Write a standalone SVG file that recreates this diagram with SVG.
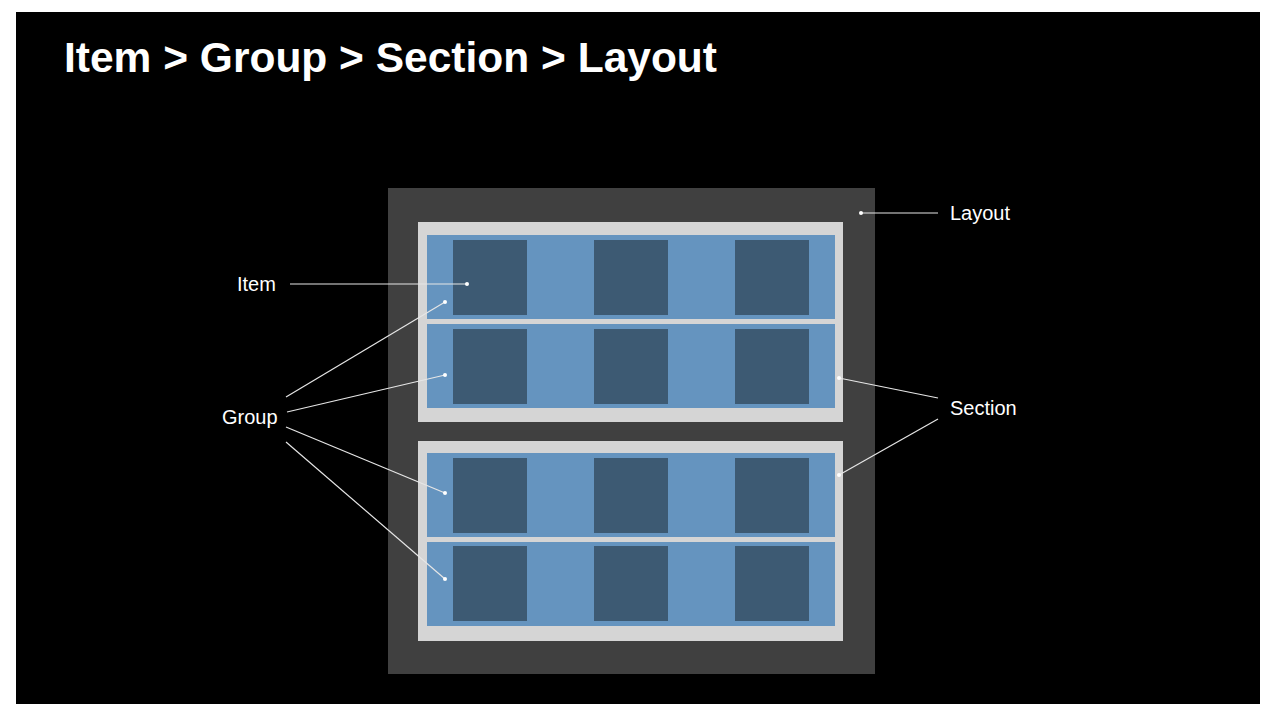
<svg xmlns="http://www.w3.org/2000/svg" width="1280" height="713" viewBox="0 0 1280 713">
  <style>
    .layout { fill: #404040; }
    .section { fill: #d5d5d5; }
    .group { fill: #6594bf; }
    .item { fill: #3d5a73; }
    .lead { stroke: #e6e6e6; stroke-width: 1.2; fill: none; }
    .dot { fill: #ffffff; }
    .label { font-family: "Liberation Sans", Arial, sans-serif; font-size: 20px; fill: #ffffff; }
    .title { font-family: "Liberation Sans", Arial, sans-serif; font-size: 42.5px; font-weight: bold; fill: #ffffff; }
  </style>
  <defs>
    <g id="itemrow">
      <rect class="item" x="0" y="0" width="74" height="75"/>
      <rect class="item" x="141" y="0" width="74" height="75"/>
      <rect class="item" x="282" y="0" width="74" height="75"/>
    </g>
  </defs>
  <rect x="0" y="0" width="1280" height="713" fill="#ffffff"/>
  <rect x="16" y="12" width="1244" height="692" fill="#000000"/>
  <text class="title" x="64" y="72">Item &gt; Group &gt; Section &gt; Layout</text>

  <g id="layout">
    <rect class="layout" x="388" y="188" width="487" height="486"/>
  </g>
  <g id="section1">
    <rect class="section" x="418" y="222" width="425" height="200"/>
  </g>
  <g id="section2">
    <rect class="section" x="418" y="441" width="425" height="200"/>
  </g>
  <g id="group1">
    <rect class="group" x="427" y="235" width="408" height="84"/>
    <use href="#itemrow" x="453" y="240"/>
  </g>
  <g id="group2">
    <rect class="group" x="427" y="324" width="408" height="84"/>
    <use href="#itemrow" x="453" y="329"/>
  </g>
  <g id="group3">
    <rect class="group" x="427" y="453" width="408" height="84"/>
    <use href="#itemrow" x="453" y="458"/>
  </g>
  <g id="group4">
    <rect class="group" x="427" y="542" width="408" height="84"/>
    <use href="#itemrow" x="453" y="546"/>
  </g>

  <g id="connectors">
    <line class="lead" x1="290" y1="284" x2="467" y2="284"/>
    <circle class="dot" cx="467" cy="284" r="2"/>
    <line class="lead" x1="286" y1="397" x2="445" y2="302"/>
    <circle class="dot" cx="445" cy="302" r="2"/>
    <line class="lead" x1="287" y1="412" x2="445" y2="375"/>
    <circle class="dot" cx="445" cy="375" r="2"/>
    <line class="lead" x1="286" y1="427" x2="445" y2="493"/>
    <circle class="dot" cx="445" cy="493" r="2"/>
    <line class="lead" x1="286" y1="442" x2="445" y2="579"/>
    <circle class="dot" cx="445" cy="579" r="2"/>
    <line class="lead" x1="861" y1="213" x2="938" y2="213"/>
    <circle class="dot" cx="861" cy="213" r="2"/>
    <line class="lead" x1="839" y1="378" x2="938" y2="398"/>
    <circle class="dot" cx="839" cy="378" r="2"/>
    <line class="lead" x1="938" y1="419" x2="839" y2="475"/>
    <circle class="dot" cx="839" cy="475" r="2"/>
  </g>

  <g id="labels">
    <text class="label" x="237" y="291">Item</text>
    <text class="label" x="222" y="424">Group</text>
    <text class="label" x="950" y="220">Layout</text>
    <text class="label" x="950" y="415">Section</text>
  </g>
</svg>
